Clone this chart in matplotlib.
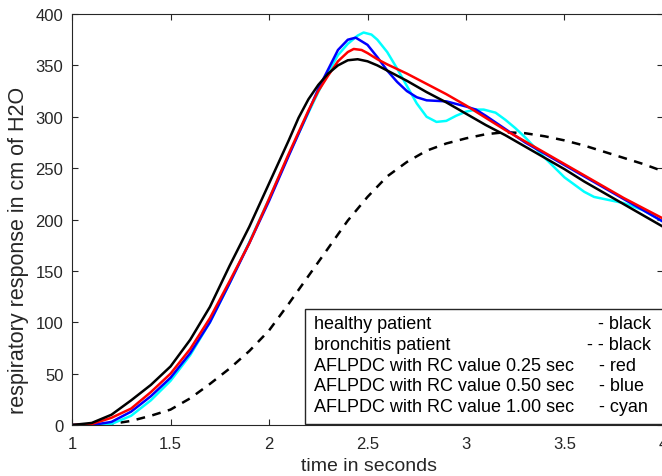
import matplotlib.pyplot as plt
from matplotlib.patches import Rectangle
import numpy as np

plt.rcParams['font.family'] = ['Liberation Sans', 'DejaVu Sans']

# time axis (seconds) and curves
t_healthy = [1.0, 1.1, 1.2, 1.3, 1.4, 1.5, 1.6, 1.7, 1.8, 1.9, 2.0, 2.1, 2.15,
             2.2, 2.25, 2.3, 2.35, 2.4, 2.45, 2.5, 2.55, 2.6, 2.7, 2.8, 2.9,
             3.0, 3.1, 3.2, 3.3, 3.4, 3.5, 3.6, 3.7, 3.8, 3.9, 4.0]
healthy = [0, 2, 10, 24, 39, 57, 83, 115, 155, 193, 235, 277, 299,
           317, 331, 342, 350, 355, 356, 354, 350, 345, 335, 324, 314,
           303, 292, 282, 271, 260, 249, 237, 226, 215, 204, 193]

t_bronch = [1.0, 1.1, 1.2, 1.3, 1.4, 1.5, 1.6, 1.7, 1.8, 1.9, 2.0, 2.1, 2.2, 2.3,
            2.4, 2.5, 2.6, 2.7, 2.8, 2.9, 3.0, 3.1, 3.2, 3.3, 3.4, 3.5, 3.6,
            3.7, 3.8, 3.9, 4.0]
bronchitis = [0, 0, 1, 4, 9, 15, 26, 40, 55, 72, 92, 118, 145, 172,
              199, 222, 242, 256, 267, 274, 279, 283, 285, 284, 281, 277, 272,
              266, 260, 254, 247]

t_red = [1.0, 1.1, 1.2, 1.3, 1.4, 1.5, 1.6, 1.7, 1.8, 1.9, 2.0, 2.1, 2.2, 2.25,
         2.3, 2.35, 2.4, 2.43, 2.47, 2.5, 2.55, 2.6, 2.7, 2.8, 2.9, 3.0, 3.1,
         3.2, 3.3, 3.4, 3.5, 3.6, 3.7, 3.8, 3.9, 4.0]
red = [0, 1, 7, 16, 32, 50, 74, 104, 140, 177, 220, 264, 306, 325,
       340, 354, 363, 366, 365, 362, 356, 351, 342, 332, 322, 311, 299,
       287, 276, 265, 254, 243, 232, 221, 211, 201]

t_blue = [1.0, 1.1, 1.2, 1.3, 1.4, 1.5, 1.6, 1.7, 1.8, 1.9, 2.0, 2.1, 2.2, 2.25,
          2.3, 2.35, 2.4, 2.44, 2.5, 2.55, 2.6, 2.65, 2.7, 2.75, 2.8, 2.9,
          3.0, 3.05, 3.1, 3.2, 3.3, 3.4, 3.5, 3.6, 3.7, 3.8, 3.9, 4.0]
blue = [0, 0, 3, 13, 28, 46, 70, 100, 138, 177, 218, 262, 305, 327,
        346, 365, 375, 377, 370, 358, 345, 334, 325, 319, 316, 315,
        310, 307, 301, 288, 275, 264, 253, 242, 231, 220, 209, 198]

t_cyan = [1.0, 1.1, 1.2, 1.3, 1.4, 1.5, 1.6, 1.7, 1.8, 1.9, 2.0, 2.1, 2.2, 2.25,
          2.3, 2.35, 2.4, 2.45, 2.48, 2.52, 2.55, 2.6, 2.65, 2.7, 2.75, 2.8,
          2.85, 2.9, 2.95, 3.0, 3.05, 3.09, 3.15, 3.2, 3.25, 3.3, 3.4, 3.5,
          3.6, 3.65, 3.7, 3.8, 3.9, 4.0]
cyan = [0, 0, 1, 9, 24, 43, 68, 100, 138, 178, 220, 263, 304, 324,
        343, 360, 371, 379, 382, 380, 375, 363, 347, 330, 313, 300,
        295, 296, 301, 305, 307, 307, 304, 297, 289, 280, 260, 241,
        227, 222, 220, 216, 209, 198]

legend_left = ['healthy patient', 'bronchitis patient',
               'AFLPDC with RC value 0.25 sec', 'AFLPDC with RC value 0.50 sec',
               'AFLPDC with RC value 1.00 sec']
legend_right = ['- black', '- - black', '- red', '- blue', '- cyan']

fig = plt.figure(figsize=(6.62, 4.77), dpi=100)
ax = fig.add_axes([0.1088, 0.1069, 0.8927, 0.8616])

lw = 1.8
ax.plot(t_bronch, bronchitis, color='black', lw=lw, ls=(0, (3.5, 3.0)))
ax.plot(t_cyan, cyan, color='#00FFFF', lw=lw)
ax.plot(t_blue, blue, color='#0000FF', lw=lw)
ax.plot(t_red, red, color='#FF0000', lw=lw)
ax.plot(t_healthy, healthy, color='black', lw=lw)

ax.set_xlim(1, 4)
ax.set_ylim(0, 400)
ax.set_xticks([1, 1.5, 2, 2.5, 3, 3.5, 4])
ax.set_xticklabels(['1', '1.5', '2', '2.5', '3', '3.5', '4'])
ax.set_yticks(np.arange(0, 401, 50))
ax.tick_params(direction='in', top=True, right=True, labelsize=12,
               length=4, width=0.8, colors='#262626')
ax.tick_params(axis='x', pad=7.8)
ax.tick_params(axis='y', pad=6.2)
for s in ax.spines.values():
    s.set_color('#262626')
    s.set_linewidth(0.8)

ax.set_xlabel('time in seconds', fontsize=14, color='#262626')
ax.xaxis.set_label_coords(0.5017, -0.079)
ax.set_ylabel('respiratory response in cm of H2O', fontsize=15.5,
              color='#262626')
ax.yaxis.set_label_coords(-0.072, 0.426)

# text box acting as legend
ax.add_patch(Rectangle((0.394, 0.003), 0.62, 0.279, transform=ax.transAxes,
                       facecolor='white', edgecolor='#262626', lw=1.0,
                       clip_on=False, zorder=5))
row_y = [0.246, 0.196, 0.146, 0.095, 0.046]
right_x = [0.8897, 0.8710, 0.8914, 0.8914, 0.8914]
for i in range(len(legend_left)):
    ax.text(0.4095, row_y[i], legend_left[i], transform=ax.transAxes,
            fontsize=13, va='center', ha='left', zorder=6)
    ax.text(right_x[i], row_y[i], legend_right[i], transform=ax.transAxes,
            fontsize=13, va='center', ha='left', zorder=6)

fig.savefig('out.png', dpi=100)
